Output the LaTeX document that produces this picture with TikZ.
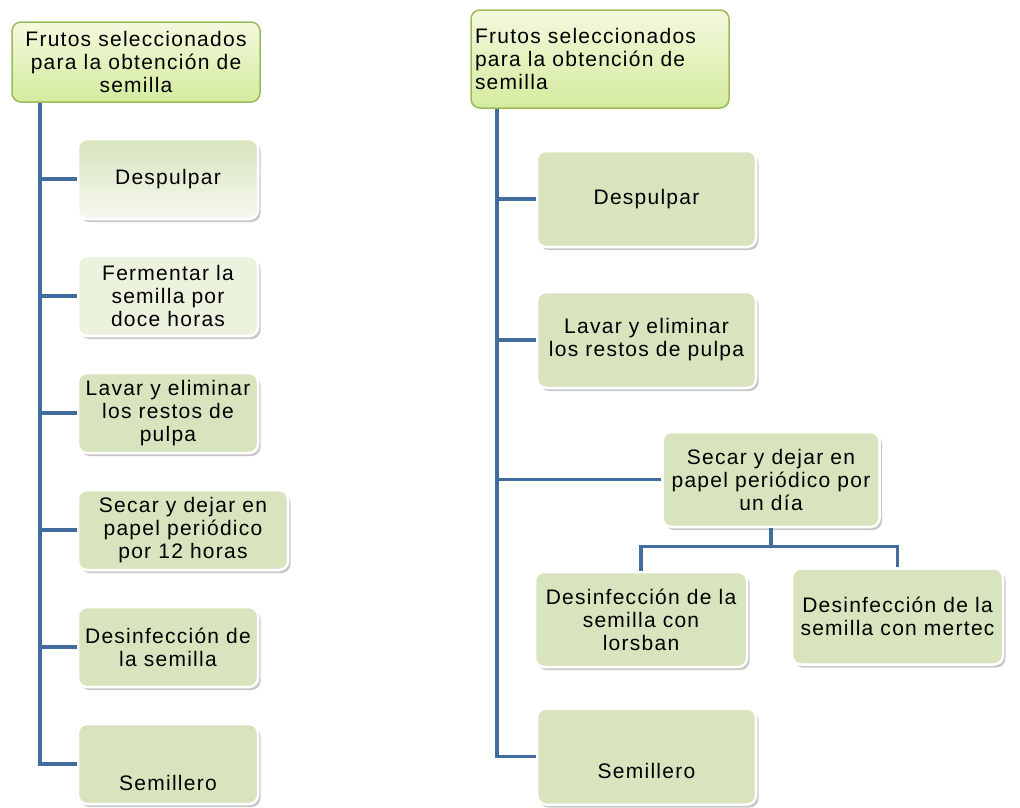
\documentclass[tikz,border=0pt]{standalone}
\usepackage{fontspec}
\setmainfont{Liberation Sans}[LetterSpace=6]
\usepackage{xcolor}
\usetikzlibrary{positioning, shadows}
\definecolor{boxGreen}{RGB}{215,228,189}
\definecolor{headTop}{RGB}{243,249,222}
\definecolor{headBottom}{RGB}{212,235,158}
\definecolor{headBorder}{RGB}{155,187,89}
\definecolor{lineBlue}{RGB}{65,108,158}
\tikzset{%
% Specifications for style of nodes:
base/.style = {rounded corners=9pt, align=center, inner xsep=2pt, inner ysep=4pt, font=\fontsize{21}{23}\selectfont},
header/.style = {base, draw=headBorder, line width=1.5pt, top color=headTop, bottom color=headBottom},
task/.style = {base, draw=white, line width=2.5pt, fill=boxGreen, drop shadow={shadow xshift=2.5pt, shadow yshift=-3pt, fill=black, opacity=0.22}},
smallTask/.style = {task, minimum width=180pt, minimum height=80pt},
bigTask/.style = {task, minimum width=219pt, minimum height=96pt},
link/.style = {draw=lineBlue, line width=3.5pt},
}

\begin{document}
\begin{tikzpicture}[x=1pt, y=-1pt, node distance=34.5pt]
    \useasboundingbox (0,0) rectangle (1020,807);
    % Left chart
    \node (frutosLeft) [header, minimum width=248pt, minimum height=80pt] at (136,62) {Frutos seleccionados\\para la obtención de\\semilla};
    \node (despulparLeft) [smallTask, top color=boxGreen, bottom color=boxGreen!25!white] at (168,179) {Despulpar};
    \node (fermentarLeft) [smallTask, fill=boxGreen!50!white, below=of despulparLeft] {Fermentar la\\semilla por\\doce horas};
    \node (lavarLeft) [smallTask, below=of fermentarLeft] {Lavar y eliminar\\los restos de\\pulpa};
    \node (secarLeft) [smallTask, minimum width=210pt, below right=34.5pt and 0pt of lavarLeft.south west] {Secar y dejar en\\papel periódico\\por 12 horas};
    \node (desinfeccionLeft) [smallTask, below right=34.5pt and 0pt of secarLeft.south west] {Desinfección de\\la semilla};
    \node (semilleroLeft) [smallTask, text height=54pt, text depth=2pt, below=of desinfeccionLeft] {Semillero};
    \coordinate (leftTrunk) at (40,0);

    % Right chart
    \node (frutosRight) [header, align=left, text width=250pt, minimum width=258pt, minimum height=98pt] at (600,59) {Frutos seleccionados\\para la obtención de\\semilla};
    \node (despulparRight) [bigTask] at (646.5,199) {Despulpar};
    \node (lavarRight) [bigTask, below=42.5pt of despulparRight] {Lavar y eliminar\\los restos de pulpa};
    \node (secarRight) [bigTask, minimum width=217pt, minimum height=95pt] at (771,479.5) {Secar y dejar en\\papel periódico por\\un día};
    \node (lorsbanRight) [bigTask, minimum width=212pt, minimum height=95pt] at (641,619.5) {Desinfección de la\\semilla con\\lorsban};
    \node (mertecRight) [bigTask, minimum width=211pt] at (897.5,616.5) {Desinfección de la\\semilla con mertec};
    \node (semilleroRight) [bigTask, text height=45pt, text depth=2pt] at (646.5,756.5) {Semillero};
    \coordinate (rightTrunk) at (497,0);

    \draw [link] (frutosLeft.south -| leftTrunk) |- (semilleroLeft.west);
    \draw [link] (leftTrunk |- despulparLeft.west) -- (despulparLeft.west);
    \draw [link] (leftTrunk |- fermentarLeft.west) -- (fermentarLeft.west);
    \draw [link] (leftTrunk |- lavarLeft.west) -- (lavarLeft.west);
    \draw [link] (leftTrunk |- secarLeft.west) -- (secarLeft.west);
    \draw [link] (leftTrunk |- desinfeccionLeft.west) -- (desinfeccionLeft.west);

    \draw [link] (frutosRight.south -| rightTrunk) |- (semilleroRight.west);
    \draw [link] (rightTrunk |- despulparRight.west) -- (despulparRight.west);
    \draw [link] (rightTrunk |- lavarRight.west) -- (lavarRight.west);
    \draw [link] (rightTrunk |- secarRight.west) -- (secarRight.west);
    \draw [link] (secarRight.south) -- ++(0,18) -| (lorsbanRight.north);
    \draw [link] (secarRight.south) -- ++(0,18) -| (mertecRight.north);
\end{tikzpicture}
\end{document}
